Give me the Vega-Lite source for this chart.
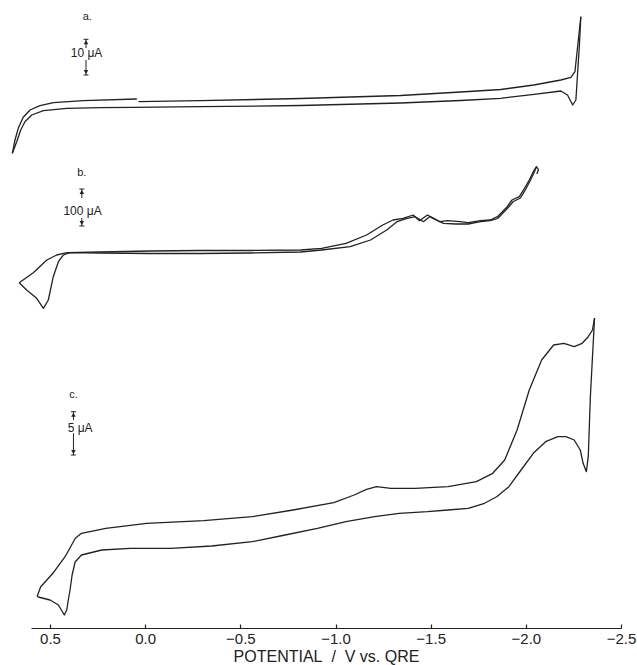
{
"$schema":"https://vega.github.io/schema/vega-lite/v6.json",
"width":590,"height":618,
"autosize":{"type":"none"},
"padding":{"left":31,"top":10,"right":16,"bottom":37},
"background":"white",
"config":{"view":{"stroke":null},"font":"Liberation Sans"},
"datasets":{
"curves":[
{"s":"a1","i":0,"v":0.698,"y":474.7},{"s":"a1","i":1,"v":0.684,"y":488},{"s":"a1","i":2,"v":0.667,"y":499.7},{"s":"a1","i":3,"v":0.641,"y":510.7},{"s":"a1","i":4,"v":0.605,"y":518},{"s":"a1","i":5,"v":0.553,"y":522.3},{"s":"a1","i":6,"v":0.482,"y":525.3},{"s":"a1","i":7,"v":0.325,"y":527.3},{"s":"a1","i":8,"v":0.044,"y":529},
{"s":"a2","i":0,"v":0.035,"y":526.3},{"s":"a2","i":1,"v":-0.289,"y":527.3},{"s":"a2","i":2,"v":-0.816,"y":529.5},{"s":"a2","i":3,"v":-1.342,"y":532.5},{"s":"a2","i":4,"v":-1.658,"y":536},{"s":"a2","i":5,"v":-1.868,"y":538.5},{"s":"a2","i":6,"v":-2.042,"y":543},{"s":"a2","i":7,"v":-2.184,"y":548},{"s":"a2","i":8,"v":-2.237,"y":550.7},{"s":"a2","i":9,"v":-2.258,"y":556.3},{"s":"a2","i":10,"v":-2.272,"y":581.3},{"s":"a2","i":11,"v":-2.289,"y":611.3},
{"s":"aL","i":0,"v":0.698,"y":474.7},{"s":"aL","i":1,"v":0.675,"y":486.3},{"s":"aL","i":2,"v":0.654,"y":498},{"s":"aL","i":3,"v":0.632,"y":506.3},{"s":"aL","i":4,"v":0.596,"y":513},{"s":"aL","i":5,"v":0.535,"y":517.3},{"s":"aL","i":6,"v":0.412,"y":519.7},{"s":"aL","i":7,"v":0.237,"y":520.3},{"s":"aL","i":8,"v":0.062,"y":520.7},{"s":"aL","i":9,"v":-0.289,"y":521.3},{"s":"aL","i":10,"v":-0.816,"y":522.5},{"s":"aL","i":11,"v":-1.342,"y":525},{"s":"aL","i":12,"v":-1.658,"y":527.5},{"s":"aL","i":13,"v":-1.868,"y":529.7},{"s":"aL","i":14,"v":-2.044,"y":533.7},{"s":"aL","i":15,"v":-2.184,"y":537},{"s":"aL","i":16,"v":-2.219,"y":533},{"s":"aL","i":17,"v":-2.246,"y":523},{"s":"aL","i":18,"v":-2.263,"y":528},{"s":"aL","i":19,"v":-2.272,"y":555},{"s":"aL","i":20,"v":-2.281,"y":581.3},{"s":"aL","i":21,"v":-2.289,"y":611.3},
{"s":"bU","i":0,"v":0.662,"y":345.3},{"s":"bU","i":1,"v":0.588,"y":355.3},{"s":"bU","i":2,"v":0.517,"y":368},{"s":"bU","i":3,"v":0.465,"y":373},{"s":"bU","i":4,"v":0.412,"y":375.3},{"s":"bU","i":5,"v":0.237,"y":376},{"s":"bU","i":6,"v":-0.026,"y":377},{"s":"bU","i":7,"v":-0.289,"y":377.5},{"s":"bU","i":8,"v":-0.553,"y":377.5},{"s":"bU","i":9,"v":-0.816,"y":378},{"s":"bU","i":10,"v":-0.927,"y":379.7},{"s":"bU","i":11,"v":-1.055,"y":384.7},{"s":"bU","i":12,"v":-1.163,"y":393},{"s":"bU","i":13,"v":-1.248,"y":403},{"s":"bU","i":14,"v":-1.302,"y":408},{"s":"bU","i":15,"v":-1.355,"y":409.7},{"s":"bU","i":16,"v":-1.408,"y":413},{"s":"bU","i":17,"v":-1.441,"y":407.3},{"s":"bU","i":18,"v":-1.483,"y":413},{"s":"bU","i":19,"v":-1.516,"y":409.7},{"s":"bU","i":20,"v":-1.547,"y":406.3},{"s":"bU","i":21,"v":-1.589,"y":407.3},{"s":"bU","i":22,"v":-1.653,"y":406.3},{"s":"bU","i":23,"v":-1.697,"y":405.3},{"s":"bU","i":24,"v":-1.762,"y":407.3},{"s":"bU","i":25,"v":-1.813,"y":408},{"s":"bU","i":26,"v":-1.851,"y":411.3},{"s":"bU","i":27,"v":-1.902,"y":421.3},{"s":"bU","i":28,"v":-1.927,"y":428},{"s":"bU","i":29,"v":-1.966,"y":431.3},{"s":"bU","i":30,"v":-1.993,"y":439.7},{"s":"bU","i":31,"v":-2.018,"y":448},{"s":"bU","i":32,"v":-2.044,"y":458},{"s":"bU","i":33,"v":-2.056,"y":461.3},{"s":"bU","i":34,"v":-2.066,"y":458.5},{"s":"bU","i":35,"v":-2.058,"y":454},
{"s":"bL","i":0,"v":0.662,"y":345.3},{"s":"bL","i":1,"v":0.623,"y":338},{"s":"bL","i":2,"v":0.57,"y":329.7},{"s":"bL","i":3,"v":0.535,"y":319.7},{"s":"bL","i":4,"v":0.509,"y":328},{"s":"bL","i":5,"v":0.483,"y":351.3},{"s":"bL","i":6,"v":0.456,"y":366.3},{"s":"bL","i":7,"v":0.43,"y":373},{"s":"bL","i":8,"v":0.395,"y":375.3},{"s":"bL","i":9,"v":0.237,"y":375},{"s":"bL","i":10,"v":-0.026,"y":374.5},{"s":"bL","i":11,"v":-0.289,"y":374.5},{"s":"bL","i":12,"v":-0.553,"y":375},{"s":"bL","i":13,"v":-0.816,"y":376},{"s":"bL","i":14,"v":-0.927,"y":378},{"s":"bL","i":15,"v":-1.077,"y":381.3},{"s":"bL","i":16,"v":-1.184,"y":388},{"s":"bL","i":17,"v":-1.269,"y":398},{"s":"bL","i":18,"v":-1.323,"y":406.3},{"s":"bL","i":19,"v":-1.376,"y":409.7},{"s":"bL","i":20,"v":-1.419,"y":411.3},{"s":"bL","i":21,"v":-1.462,"y":406.3},{"s":"bL","i":22,"v":-1.494,"y":411.3},{"s":"bL","i":23,"v":-1.537,"y":407.3},{"s":"bL","i":24,"v":-1.568,"y":404.7},{"s":"bL","i":25,"v":-1.633,"y":404},{"s":"bL","i":26,"v":-1.697,"y":404},{"s":"bL","i":27,"v":-1.762,"y":406.3},{"s":"bL","i":28,"v":-1.813,"y":407.3},{"s":"bL","i":29,"v":-1.852,"y":409.5},{"s":"bL","i":30,"v":-1.905,"y":420},{"s":"bL","i":31,"v":-1.934,"y":426.5},{"s":"bL","i":32,"v":-1.972,"y":430},{"s":"bL","i":33,"v":-1.997,"y":438},{"s":"bL","i":34,"v":-2.022,"y":447},{"s":"bL","i":35,"v":-2.047,"y":457},{"s":"bL","i":36,"v":-2.056,"y":461.3},
{"s":"cU","i":0,"v":0.568,"y":31.5},{"s":"cU","i":1,"v":0.549,"y":41.3},{"s":"cU","i":2,"v":0.485,"y":54.7},{"s":"cU","i":3,"v":0.421,"y":71.3},{"s":"cU","i":4,"v":0.367,"y":89.7},{"s":"cU","i":5,"v":0.335,"y":94.7},{"s":"cU","i":6,"v":0.207,"y":99.7},{"s":"cU","i":7,"v":-0.007,"y":104.7},{"s":"cU","i":8,"v":-0.307,"y":107.3},{"s":"cU","i":9,"v":-0.563,"y":111.3},{"s":"cU","i":10,"v":-0.777,"y":118},{"s":"cU","i":11,"v":-0.991,"y":125.3},{"s":"cU","i":12,"v":-1.098,"y":133},{"s":"cU","i":13,"v":-1.163,"y":138.7},{"s":"cU","i":14,"v":-1.216,"y":141.3},{"s":"cU","i":15,"v":-1.291,"y":139.7},{"s":"cU","i":16,"v":-1.419,"y":139.7},{"s":"cU","i":17,"v":-1.591,"y":141.3},{"s":"cU","i":18,"v":-1.74,"y":146.3},{"s":"cU","i":19,"v":-1.826,"y":154.7},{"s":"cU","i":20,"v":-1.889,"y":168},{"s":"cU","i":21,"v":-1.954,"y":198},{"s":"cU","i":22,"v":-2.018,"y":238},{"s":"cU","i":23,"v":-2.083,"y":268},{"s":"cU","i":24,"v":-2.146,"y":283},{"s":"cU","i":25,"v":-2.2,"y":284.7},{"s":"cU","i":26,"v":-2.254,"y":281.3},{"s":"cU","i":27,"v":-2.296,"y":284.7},{"s":"cU","i":28,"v":-2.328,"y":291.3},{"s":"cU","i":29,"v":-2.35,"y":298},{"s":"cU","i":30,"v":-2.361,"y":310},
{"s":"cL","i":0,"v":0.568,"y":31.5},{"s":"cL","i":1,"v":0.562,"y":31},{"s":"cL","i":2,"v":0.5,"y":28},{"s":"cL","i":3,"v":0.456,"y":23},{"s":"cL","i":4,"v":0.425,"y":13},{"s":"cL","i":5,"v":0.412,"y":18},{"s":"cL","i":6,"v":0.404,"y":28},{"s":"cL","i":7,"v":0.395,"y":38},{"s":"cL","i":8,"v":0.384,"y":53},{"s":"cL","i":9,"v":0.368,"y":66},{"s":"cL","i":10,"v":0.335,"y":73},{"s":"cL","i":11,"v":0.228,"y":78},{"s":"cL","i":12,"v":0.079,"y":79.7},{"s":"cL","i":13,"v":-0.135,"y":79.7},{"s":"cL","i":14,"v":-0.349,"y":82},{"s":"cL","i":15,"v":-0.563,"y":86.3},{"s":"cL","i":16,"v":-0.735,"y":93},{"s":"cL","i":17,"v":-0.905,"y":99.7},{"s":"cL","i":18,"v":-1.055,"y":106.3},{"s":"cL","i":19,"v":-1.205,"y":111.3},{"s":"cL","i":20,"v":-1.334,"y":114.7},{"s":"cL","i":21,"v":-1.483,"y":116.3},{"s":"cL","i":22,"v":-1.591,"y":118},{"s":"cL","i":23,"v":-1.697,"y":119.7},{"s":"cL","i":24,"v":-1.783,"y":124.7},{"s":"cL","i":25,"v":-1.847,"y":131.3},{"s":"cL","i":26,"v":-1.911,"y":141.3},{"s":"cL","i":27,"v":-1.975,"y":158},{"s":"cL","i":28,"v":-2.039,"y":174.7},{"s":"cL","i":29,"v":-2.104,"y":186.3},{"s":"cL","i":30,"v":-2.168,"y":191.3},{"s":"cL","i":31,"v":-2.211,"y":191.3},{"s":"cL","i":32,"v":-2.254,"y":188},{"s":"cL","i":33,"v":-2.286,"y":178},{"s":"cL","i":34,"v":-2.301,"y":164.7},{"s":"cL","i":35,"v":-2.318,"y":156.3},{"s":"cL","i":36,"v":-2.328,"y":171.3},{"s":"cL","i":37,"v":-2.339,"y":231.3},{"s":"cL","i":38,"v":-2.361,"y":310}
],
"stems":[
{"v":0.311,"y":588.7,"y2":580},{"v":0.311,"y":568,"y2":553},
{"v":0.333,"y":439,"y2":430},{"v":0.333,"y":410,"y2":402},
{"v":0.377,"y":216.3,"y2":208},{"v":0.377,"y":194.7,"y2":173}
],
"caps":[
{"v":0.324,"v2":0.298,"y":588.7},{"v":0.324,"v2":0.298,"y":553},
{"v":0.346,"v2":0.32,"y":439},{"v":0.346,"v2":0.32,"y":402},
{"v":0.39,"v2":0.364,"y":216.3},{"v":0.39,"v2":0.364,"y":173}
],
"heads":[
{"v":0.311,"y":585.7,"d":"up"},{"v":0.311,"y":556,"d":"down"},
{"v":0.333,"y":436,"d":"up"},{"v":0.333,"y":405,"d":"down"},
{"v":0.377,"y":213.3,"d":"up"},{"v":0.377,"y":176,"d":"down"}
],
"labels":[
{"v":0.304,"y":611.3,"t":"a.","k":"p"},{"v":0.333,"y":455.3,"t":"b.","k":"p"},{"v":0.377,"y":233,"t":"c.","k":"p"},
{"v":0.308,"y":574.7,"t":"10 μA","k":"u"},{"v":0.329,"y":417,"t":"100 μA","k":"u"},{"v":0.342,"y":200.3,"t":"5 μA","k":"u"}
]
},
"encoding":{
"x":{"field":"v","type":"quantitative","scale":{"domain":[-2.5,0.6],"reverse":true,"nice":false,"zero":false},
"axis":{"values":[0.5,0,-0.5,-1,-1.5,-2,-2.5],"format":".1f","title":"POTENTIAL\u00a0\u00a0/\u00a0\u00a0V vs. QRE","grid":false,"domainColor":"#222","domainWidth":1.2,"tickColor":"#222","tickSize":-4,"tickWidth":1.2,"labelFontSize":15,"labelColor":"#222","labelPadding":7,"labelFlush":false,"labelOverlap":false,"titleFontSize":16,"titleFontWeight":"normal","titleColor":"#222","titlePadding":2}},
"y":{"field":"y","type":"quantitative","scale":{"domain":[0,618],"nice":false,"zero":false},"axis":null}
},
"layer":[
{"data":{"name":"curves"},"mark":{"type":"line","color":"#222","strokeWidth":1.3,"strokeJoin":"round"},
 "encoding":{"detail":{"field":"s"},"order":{"field":"i","type":"quantitative"}}},
{"data":{"name":"stems"},"mark":{"type":"rule","color":"#222","strokeWidth":1},"encoding":{"y2":{"field":"y2"}}},
{"data":{"name":"caps"},"mark":{"type":"rule","color":"#222","strokeWidth":1},"encoding":{"x2":{"field":"v2"}}},
{"data":{"name":"heads"},"mark":{"type":"point","filled":true,"color":"#222","size":20,"opacity":1},
 "encoding":{"shape":{"field":"d","type":"nominal","scale":{"domain":["up","down"],"range":["triangle-up","triangle-down"]},"legend":null}}},
{"data":{"name":"labels"},"mark":{"type":"text","color":"#222","align":"center","baseline":"middle"},
 "encoding":{"text":{"field":"t"},"size":{"field":"k","type":"nominal","scale":{"domain":["p","u"],"range":[11,12]},"legend":null}}}
]
}
